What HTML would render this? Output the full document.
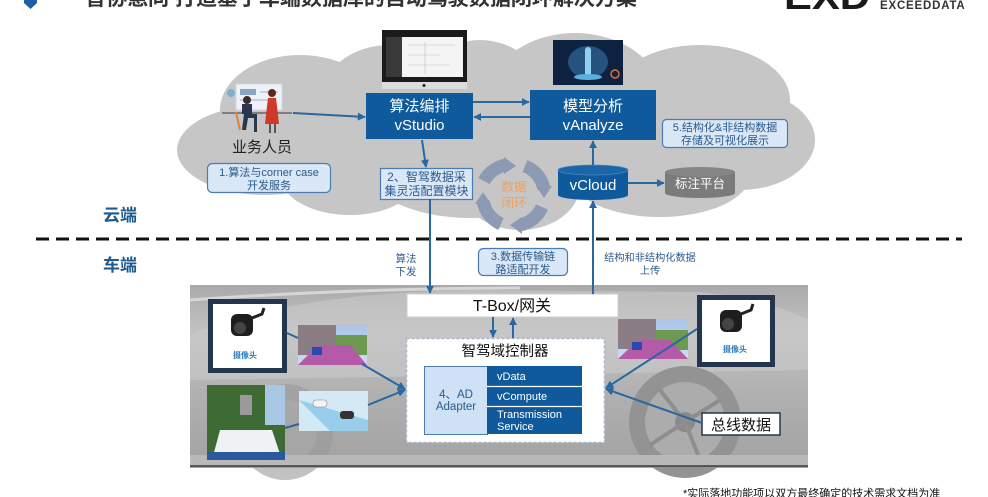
<!DOCTYPE html>
<html><head><meta charset="utf-8">
<style>
html,body{margin:0;padding:0;background:#fff;width:988px;height:497px;overflow:hidden}
svg{display:block}
text{font-family:"Liberation Sans","Noto Sans CJK SC",sans-serif}
</style></head>
<body>
<svg width="988" height="497" viewBox="0 0 988 497" xmlns="http://www.w3.org/2000/svg">
<defs>
<marker id="a" viewBox="0 0 10 10" refX="9" refY="5" markerWidth="8" markerHeight="8" markerUnits="userSpaceOnUse" orient="auto"><path d="M0,0 L10,5 L0,10 z" fill="#2a67a0"/></marker>
<linearGradient id="car" x1="0" y1="0" x2="0" y2="1">
<stop offset="0" stop-color="#a9a9a9"/><stop offset="0.25" stop-color="#c2c2c2"/><stop offset="0.6" stop-color="#b0b0b0"/><stop offset="1" stop-color="#a2a2a2"/>
</linearGradient>
<linearGradient id="sky" x1="0" y1="0" x2="0" y2="1"><stop offset="0" stop-color="#a9c4e8"/><stop offset="1" stop-color="#d0dcee"/></linearGradient>
</defs>

<!-- Title -->
<polygon points="24,0 37,0 37,3 30.5,9 24,3" fill="#1e5fa3"/>
<text x="85" y="5" font-size="21" font-weight="bold" fill="#333">智协慧同 打造基于车端数据库的自动驾驶数据闭环解决方案</text>
<text x="784" y="9" font-size="36" font-weight="bold" fill="#1a1a1a" textLength="86" lengthAdjust="spacingAndGlyphs">EXD</text>
<text x="880" y="9" font-size="11.5" font-weight="bold" fill="#333" letter-spacing="0.8">EXCEEDDATA</text>

<!-- Cloud -->
<g fill="#c6c6c6">
<ellipse cx="265" cy="150" rx="88" ry="45"/>
<ellipse cx="300" cy="110" rx="80" ry="55"/>
<ellipse cx="390" cy="100" rx="70" ry="55"/>
<ellipse cx="480" cy="90" rx="60" ry="50"/>
<ellipse cx="470" cy="160" rx="110" ry="58"/>
<ellipse cx="520" cy="185" rx="60" ry="45"/>
<ellipse cx="575" cy="95" rx="85" ry="62"/>
<ellipse cx="700" cy="100" rx="90" ry="55"/>
<ellipse cx="740" cy="140" rx="75" ry="50"/>
<ellipse cx="660" cy="175" rx="90" ry="42"/>
<ellipse cx="350" cy="175" rx="70" ry="40"/>
</g>

<!-- Monitor -->
<rect x="382" y="30" width="85" height="52" fill="#1a1a1a"/>
<rect x="386" y="37" width="77" height="40" fill="#f4f4f4"/>
<rect x="386" y="37" width="16" height="40" fill="#3a3a3a"/>
<g stroke="#bbb" stroke-width="0.6"><line x1="408" y1="45" x2="455" y2="45"/><line x1="408" y1="55" x2="440" y2="55"/><line x1="408" y1="65" x2="450" y2="65"/><line x1="425" y1="42" x2="425" y2="74"/></g>
<rect x="382" y="82" width="85" height="7" fill="#dcdcdc"/>
<circle cx="424" cy="85.5" r="1.5" fill="#222"/>
<rect x="410" y="89" width="28" height="4" fill="#c4c4c4"/>

<!-- vAnalyze image -->
<rect x="553" y="40" width="70" height="45" fill="#0d2240"/>
<ellipse cx="588" cy="62" rx="20" ry="16" fill="#2d5f8f" opacity="0.8"/>
<rect x="585" y="47" width="6" height="30" rx="3" fill="#8fd0f0"/>
<ellipse cx="588" cy="77" rx="14" ry="3" fill="#5ab0e0"/>
<circle cx="615" cy="74" r="4" fill="none" stroke="#e07030" stroke-width="1.5"/>

<!-- Person illustration -->
<rect x="236" y="84" width="46" height="26" fill="#eef2f7" stroke="#d0d6de"/>
<rect x="240" y="89" width="16" height="6" fill="#8aa4c4"/>
<line x1="260" y1="92" x2="278" y2="92" stroke="#aab" stroke-width="1"/>
<line x1="240" y1="100" x2="270" y2="100" stroke="#aab" stroke-width="1"/>
<circle cx="231" cy="93" r="4" fill="#7ab0d0"/>
<line x1="222" y1="113" x2="292" y2="113" stroke="#555" stroke-width="1.2"/>
<circle cx="247" cy="100" r="4" fill="#3a2a2a"/>
<path d="M242,104 h10 v10 h-10z" fill="#2a3550"/>
<path d="M244,114 l-2,16 h4 l2,-12 h6 v14 h3 v-18z" fill="#2a3550"/>
<path d="M236,112 l4,18" stroke="#e08040" stroke-width="2"/>
<circle cx="272" cy="93" r="4" fill="#5a2a1a"/>
<path d="M268,98 h8 l3,26 h-14z" fill="#d0382a"/>
<line x1="270" y1="124" x2="270" y2="133" stroke="#333" stroke-width="1.5"/>
<line x1="275" y1="124" x2="275" y2="133" stroke="#333" stroke-width="1.5"/>
<text x="262" y="152" font-size="15" fill="#222" text-anchor="middle">业务人员</text>

<!-- Box 1 -->
<rect x="207.5" y="163.5" width="123" height="29" rx="5" fill="#d9e7f6" stroke="#4a7cb0" stroke-width="1.2"/>
<text x="269" y="176" font-size="11" fill="#2c5a8c" text-anchor="middle">1.算法与corner case</text>
<text x="269" y="189" font-size="11" fill="#2c5a8c" text-anchor="middle">开发服务</text>

<!-- vStudio -->
<rect x="366" y="93" width="107" height="46" fill="#0f5a9c"/>
<text x="419.5" y="111" font-size="15" fill="#fff" text-anchor="middle">算法编排</text>
<text x="419.5" y="130" font-size="15" fill="#fff" text-anchor="middle">vStudio</text>

<!-- vAnalyze -->
<rect x="530" y="90" width="126" height="50" fill="#0f5a9c"/>
<text x="593" y="111" font-size="15" fill="#fff" text-anchor="middle">模型分析</text>
<text x="593" y="130" font-size="15" fill="#fff" text-anchor="middle">vAnalyze</text>

<!-- Box 5 -->
<rect x="662.5" y="119.5" width="125" height="28" rx="4" fill="#d9e7f6" stroke="#4a7cb0" stroke-width="1.2"/>
<text x="725" y="131" font-size="11" fill="#2c5a8c" text-anchor="middle">5.结构化&amp;非结构数据</text>
<text x="725" y="144" font-size="11" fill="#2c5a8c" text-anchor="middle">存储及可视化展示</text>

<!-- Box 2 -->
<rect x="380.5" y="168.5" width="92" height="31" fill="#d9e7f6" stroke="#4a7cb0" stroke-width="1.2"/>
<text x="426.5" y="181" font-size="12" fill="#2c5a8c" text-anchor="middle">2、智驾数据采</text>
<text x="426.5" y="195" font-size="12" fill="#2c5a8c" text-anchor="middle">集灵活配置模块</text>

<!-- Data loop -->
<g fill="none" stroke="#8c9bb3" stroke-width="13">
<path d="M484,181 A31,31 0 0 1 506,165"/>
<path d="M525,166 A31,31 0 0 1 544,189"/>
<path d="M542,207 A31,31 0 0 1 520,225"/>
<path d="M501,224 A31,31 0 0 1 483,201"/>
</g>
<g fill="#8c9bb3">
<polygon points="504,157 516,166 504,174"/>
<polygon points="552,186 544,198 536,186"/>
<polygon points="522,217 510,225 522,234"/>
<polygon points="475,204 483,192 491,204"/>
</g>
<text x="514" y="191" font-size="12.5" fill="#f0a060" text-anchor="middle">数据</text>
<text x="514" y="207" font-size="12.5" fill="#f0a060" text-anchor="middle">闭环</text>

<!-- vCloud cylinder -->
<rect x="558" y="170" width="70" height="25" fill="#0f5a9c"/>
<ellipse cx="593" cy="195" rx="35" ry="5" fill="#0f5a9c"/>
<ellipse cx="593" cy="170" rx="35" ry="5" fill="#1a66a8" stroke="#4a86c0" stroke-width="0.8"/>
<text x="593" y="190" font-size="15" fill="#fff" text-anchor="middle">vCloud</text>

<!-- 标注平台 -->
<rect x="665" y="172" width="70" height="21" fill="#7b7b7b"/>
<ellipse cx="700" cy="193" rx="35" ry="5" fill="#7b7b7b"/>
<ellipse cx="700" cy="172" rx="35" ry="5" fill="#858585"/>
<text x="700" y="188" font-size="12.5" fill="#fff" text-anchor="middle">标注平台</text>

<!-- Cloud connectors -->
<g stroke="#2a67a0" stroke-width="2" fill="none">
<line x1="293" y1="113" x2="365" y2="117" marker-end="url(#a)"/>
<line x1="473" y1="102" x2="529" y2="102" marker-end="url(#a)"/>
<line x1="530" y1="117" x2="474" y2="117" marker-end="url(#a)"/>
<line x1="422" y1="140" x2="426" y2="167" marker-end="url(#a)"/>
<line x1="593" y1="165" x2="593" y2="141" marker-end="url(#a)"/>
<line x1="628" y1="183" x2="664" y2="183" marker-end="url(#a)"/>
</g>

<!-- Dashed divider -->
<line x1="36" y1="239" x2="962" y2="239" stroke="#111" stroke-width="3" stroke-dasharray="13 7"/>
<text x="103" y="221" font-size="17" font-weight="bold" fill="#1b5b8f">云端</text>
<text x="103" y="271" font-size="17" font-weight="bold" fill="#1b5b8f">车端</text>

<text x="406" y="262" font-size="10.5" fill="#2c5a8c" text-anchor="middle">算法</text>
<text x="406" y="275" font-size="10.5" fill="#2c5a8c" text-anchor="middle">下发</text>

<rect x="478.5" y="248.5" width="89" height="27" rx="5" fill="#d9e7f6" stroke="#4a7cb0" stroke-width="1.2"/>
<text x="523" y="260" font-size="11" fill="#2c5a8c" text-anchor="middle">3.数据传输链</text>
<text x="523" y="273" font-size="11" fill="#2c5a8c" text-anchor="middle">路适配开发</text>

<text x="650" y="261" font-size="10.2" fill="#2c5a8c" text-anchor="middle">结构和非结构化数据</text>
<text x="650" y="274" font-size="10.2" fill="#2c5a8c" text-anchor="middle">上传</text>

<!-- Car panel -->
<rect x="190" y="285" width="618" height="183" fill="url(#car)"/>
<path d="M190,335 C260,305 360,292 470,290 L700,292 C760,298 790,310 808,320 L808,370 L190,380 Z" fill="#c9c9c9" opacity="0.6"/>
<path d="M190,300 C300,292 420,288 520,288" stroke="#d6d6d6" stroke-width="3" fill="none"/>
<circle cx="285" cy="432" r="48" fill="#999" opacity="0.6"/>
<circle cx="285" cy="432" r="32" fill="#ababab" opacity="0.6"/>
<circle cx="685" cy="422" r="56" fill="#939393"/>
<circle cx="685" cy="422" r="40" fill="#acacac"/>
<circle cx="685" cy="422" r="10" fill="#8a8a8a"/>
<g stroke="#8e8e8e" stroke-width="4"><line x1="685" y1="422" x2="660" y2="390"/><line x1="685" y1="422" x2="720" y2="400"/><line x1="685" y1="422" x2="700" y2="460"/><line x1="685" y1="422" x2="650" y2="445"/></g>
<rect x="190" y="455" width="618" height="11" fill="#b9b9b9"/>
<line x1="190" y1="466" x2="808" y2="466" stroke="#3a3a3a" stroke-width="1.5"/>

<!-- T-Box -->
<rect x="407" y="294" width="211" height="23" fill="#fff" stroke="#c8ccd2" stroke-width="1"/>
<text x="512" y="311" font-size="16" fill="#111" text-anchor="middle">T-Box/网关</text>

<!-- Controller -->
<rect x="406.5" y="338.5" width="198" height="104" fill="#fff" stroke="#a9b4c4" stroke-width="1.5" stroke-dasharray="3 2"/>
<text x="505" y="356" font-size="14.5" fill="#111" text-anchor="middle">智驾域控制器</text>
<rect x="424.5" y="366.5" width="63" height="68" fill="#cfe1f5" stroke="#4a7cb0" stroke-width="1"/>
<text x="456" y="398" font-size="11.5" fill="#2c5a8c" text-anchor="middle">4、AD</text>
<text x="456" y="410" font-size="11.5" fill="#2c5a8c" text-anchor="middle">Adapter</text>
<rect x="487" y="366" width="95" height="68" fill="#0f5a9c"/>
<line x1="487" y1="386.5" x2="582" y2="386.5" stroke="#fff" stroke-width="1.2"/>
<line x1="487" y1="406.5" x2="582" y2="406.5" stroke="#fff" stroke-width="1.2"/>
<text x="497" y="380" font-size="11" fill="#fff">vData</text>
<text x="497" y="400" font-size="11" fill="#fff">vCompute</text>
<text x="497" y="418" font-size="11" fill="#fff">Transmission</text>
<text x="497" y="430" font-size="11" fill="#fff">Service</text>

<!-- Left camera box -->
<rect x="208" y="299" width="79" height="74" fill="#26354f"/>
<rect x="213" y="304" width="69" height="64" fill="#fff"/>
<rect x="231" y="314" width="22" height="22" rx="6" fill="#1e1e1e"/>
<circle cx="240" cy="328" r="6" fill="#444"/>
<path d="M252,318 l10,-4 l2,-6" stroke="#222" stroke-width="3" fill="none"/>
<text x="245" y="358" font-size="8" font-weight="bold" fill="#2b7bbf" text-anchor="middle">摄像头</text>

<!-- Left street image -->
<rect x="298" y="325" width="69" height="40" fill="url(#sky)"/>
<rect x="298" y="325" width="38" height="30" fill="#8a7e84"/>
<rect x="336" y="335" width="31" height="20" fill="#6d9a50"/>
<path d="M298,365 L318,345 L350,345 L367,365 Z" fill="#b45aa8"/>
<rect x="312" y="347" width="10" height="8" fill="#2a4ab0"/>

<!-- Lidar photo -->
<rect x="207" y="385" width="78" height="75" fill="#3e6b34"/>
<rect x="265" y="385" width="20" height="40" fill="#a9c8e6"/>
<rect x="240" y="395" width="12" height="20" fill="#9a9a9a"/>
<path d="M212,460 L220,430 L272,430 L282,460 Z" fill="#eef2f5"/>
<rect x="207" y="452" width="78" height="8" fill="#2b5a9c"/>

<!-- Sim image -->
<rect x="299" y="391" width="69" height="40" fill="#d4e9f6"/>
<path d="M299,400 L368,420 L368,431 L330,431 Z" fill="#7fc0e8" opacity="0.7"/>
<rect x="313" y="400" width="14" height="7" rx="3" fill="#f4f4f4" stroke="#889" stroke-width="0.6"/>
<rect x="340" y="411" width="14" height="8" rx="3" fill="#333"/>

<!-- Right camera box -->
<rect x="697" y="295" width="78" height="72" fill="#26354f"/>
<rect x="702" y="300" width="68" height="62" fill="#fff"/>
<rect x="720" y="310" width="22" height="22" rx="6" fill="#1e1e1e"/>
<circle cx="728" cy="324" r="6" fill="#444"/>
<path d="M741,314 l10,-4 l2,-6" stroke="#222" stroke-width="3" fill="none"/>
<text x="735" y="352" font-size="8" font-weight="bold" fill="#2b7bbf" text-anchor="middle">摄像头</text>

<!-- Right street image -->
<rect x="618" y="319" width="70" height="40" fill="url(#sky)"/>
<rect x="618" y="319" width="38" height="30" fill="#8a7e84"/>
<rect x="656" y="330" width="32" height="20" fill="#6d9a50"/>
<path d="M618,359 L638,340 L670,340 L688,359 Z" fill="#b45aa8"/>
<rect x="632" y="342" width="10" height="8" fill="#2a4ab0"/>

<!-- Bus data box -->
<rect x="702" y="413" width="78" height="22" fill="#fff" stroke="#26354f" stroke-width="1.5"/>
<text x="741" y="430" font-size="15" fill="#111" text-anchor="middle">总线数据</text>

<!-- Vehicle connectors -->
<g stroke="#2a67a0" stroke-width="2" fill="none">
<line x1="430" y1="199" x2="430" y2="293" marker-end="url(#a)"/>
<line x1="593" y1="294" x2="593" y2="201" marker-end="url(#a)"/>
<line x1="493" y1="317" x2="493" y2="337" marker-end="url(#a)"/>
<line x1="513" y1="338" x2="513" y2="318" marker-end="url(#a)"/>
<line x1="287" y1="333" x2="298" y2="338"/>
<line x1="285" y1="428" x2="299" y2="424"/>
<line x1="362" y1="364" x2="405" y2="389" marker-end="url(#a)"/>
<line x1="368" y1="405" x2="405" y2="390" marker-end="url(#a)"/>
<line x1="697" y1="329" x2="606" y2="388" marker-end="url(#a)"/>
<line x1="702" y1="423" x2="606" y2="389" marker-end="url(#a)"/>
</g>

<!-- Footer -->
<text x="683" y="497" font-size="11" fill="#111">*实际落地功能项以双方最终确定的技术需求文档为准</text>
</svg>
</body></html>
